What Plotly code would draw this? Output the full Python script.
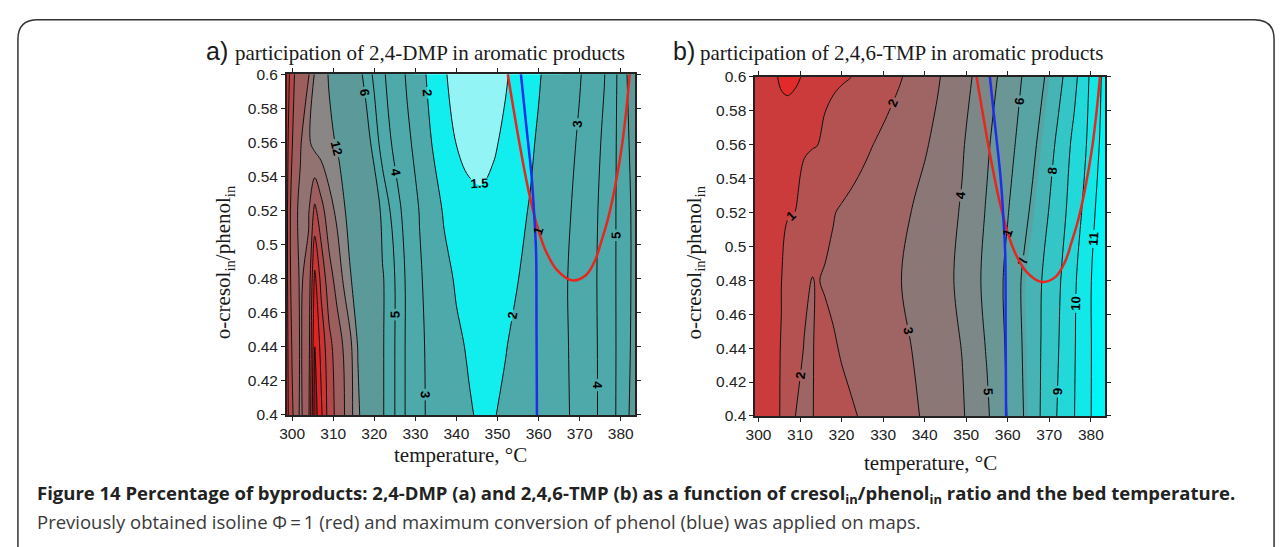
import plotly.graph_objects as go

# ---------------- data ----------------
TEMP = [298.5, 300, 302, 304, 305.5, 307, 309, 311, 313, 314, 316, 318, 320, 322, 324, 326, 328,
        331, 334, 337, 340, 343, 346, 349, 352, 355, 358, 360, 362, 364, 366, 368, 370, 372, 374,
        376, 378, 380, 382, 384]
RATIO = [0.40, 0.44, 0.48, 0.52, 0.56, 0.60]

# panel a: participation of 2,4-DMP (%)
A_040 = [21, 18.3, 15.6, 17.5, 25, 22.5, 19.0, 17.4, 15.8, 14.9, 12.4, 10.6, 8.5, 6.1, 5.43, 4.57, 3.81,
         3.15, 2.83, 2.58, 2.33, 2.08, 1.88, 1.97, 2.1, 2.29, 2.46, 2.57, 2.68, 2.79, 2.9, 3.03, 3.33,
         3.63, 3.93, 4.33, 4.78, 5.33, 5.99, 6.7]
A_044 = [21, 17.8, 15.8, 17, 24, 21.5, 18.6, 17, 15.5, 14.7, 11.9, 10.4, 8.3, 6.1, 5.43, 4.57, 3.81,
         3.15, 2.79, 2.47, 2.15, 1.92, 1.82, 1.86, 1.98, 2.15, 2.37, 2.5, 2.63, 2.76, 2.89, 3.06, 3.35,
         3.65, 3.94, 4.32, 4.78, 5.3, 5.87, 6.6]
A_048 = [21, 17, 15.8, 16.5, 22.5, 19.5, 16.8, 15.2, 13.3, 12.3, 10.8, 9.4, 7.9, 6.1, 5.43, 4.57, 3.8,
         3.1, 2.66, 2.26, 1.9, 1.78, 1.72, 1.75, 1.86, 1.99, 2.24, 2.4, 2.56, 2.72, 2.89, 3.09, 3.38,
         3.67, 3.96, 4.37, 4.79, 5.3, 5.84, 6.5]
A_052 = [21, 16.8, 15.6, 15.8, 18.5, 16.8, 14.8, 13.5, 11.95, 11.1, 9.6, 8.2, 6.9, 5.65, 4.95, 4.15, 3.6,
         2.97, 2.5, 1.9, 1.68, 1.58, 1.56, 1.62, 1.76, 1.9, 2.03, 2.25, 2.44, 2.63, 2.82, 3.01, 3.31,
         3.61, 3.91, 4.31, 4.77, 5.32, 5.85, 6.5]
A_056 = [21, 18.1, 16.2, 14.3, 13.3, 13.0, 12.5, 11.8, 10.6, 10.0, 8.5, 6.6, 5.5, 4.6, 4.03, 3.55, 3.15,
         2.7, 1.99, 1.72, 1.49, 1.42, 1.40, 1.45, 1.58, 1.75, 1.93, 2.06, 2.28, 2.48, 2.67, 2.87, 3.11,
         3.44, 3.77, 4.17, 4.72, 5.33, 5.99, 6.8]
A_060 = [22, 18.4, 17, 16.2, 13.8, 13.2, 11.8, 10.2, 8.7, 8.0, 6.5, 5.55, 4.8, 4.15, 3.7, 3.3, 2.9,
         2.2, 1.82, 1.55, 1.33, 1.22, 1.2, 1.3, 1.46, 1.65, 1.84, 1.95, 2.11, 2.3, 2.52, 2.73, 2.94,
         3.25, 3.6, 3.96, 4.6, 5.35, 6.2, 7]

# panel b: participation of 2,4,6-TMP (%)
B_040 = [0.85, 0.87, 0.90, 0.94, 1.02, 1.5, 2.03, 2.3, 2.1, 1.6, 1.6, 1.7, 1.8, 1.9, 2.01, 2.13, 2.27,
         2.47, 2.67, 2.87, 3.09, 3.37, 3.65, 3.9, 4.38, 4.86, 5.57, 6.05, 6.55, 7.05, 7.55, 8.05, 8.55,
         9.05, 9.51, 9.98, 10.48, 10.98, 11.45, 11.9]
B_044 = [0.86, 0.88, 0.91, 0.95, 1.01, 1.35, 1.7, 2.03, 2.12, 1.7, 1.75, 1.92, 2.06, 2.17, 2.29, 2.40,
         2.51, 2.68, 2.84, 3.01, 3.27, 3.52, 3.77, 4.02, 4.55, 5.07, 5.71, 6.15, 6.65, 7.13, 7.57, 8.01,
         8.47, 8.93, 9.43, 9.93, 10.45, 10.97, 11.45, 11.9]
B_048 = [0.87, 0.89, 0.92, 0.96, 0.99, 1.2, 1.5, 1.85, 2.03, 1.95, 2.08, 2.16, 2.26, 2.37, 2.47, 2.57,
         2.67, 2.82, 2.97, 3.19, 3.42, 3.65, 3.88, 4.23, 4.73, 5.26, 5.81, 6.24, 6.73, 7.18, 7.57, 7.96,
         8.38, 8.81, 9.31, 9.86, 10.4, 10.97, 11.45, 11.9]
B_052 = [0.85, 0.87, 0.9, 0.93, 0.95, 0.975, 1.005, 1.23, 1.44, 1.54, 1.75, 1.96, 2.09, 2.2, 2.3, 2.41,
         2.52, 2.68, 2.85, 3.02, 3.27, 3.53, 3.79, 4.08, 4.58, 5.09, 5.61, 5.96, 6.38, 6.79, 7.17, 7.58,
         8.05, 8.52, 8.99, 9.53, 10.06, 10.69, 11.3, 11.8]
B_056 = [0.82, 0.83, 0.85, 0.86, 0.87, 0.88, 0.91, 0.94, 0.97, 0.98, 1.115, 1.27, 1.42, 1.57, 1.73, 1.88,
         2.03, 2.25, 2.47, 2.69, 2.91, 3.2, 3.55, 3.91, 4.37, 4.88, 5.38, 5.7, 6.04, 6.42, 6.81, 7.23,
         7.68, 8.17, 8.72, 9.24, 9.73, 10.31, 10.99, 11.5]
B_060 = [0.8, 0.8, 0.79, 0.77, 0.72, 0.70, 0.72, 0.77, 0.82, 0.84, 0.87, 0.9, 0.94, 0.985, 1.07, 1.24,
         1.41, 1.67, 1.93, 2.24, 2.57, 2.9, 3.28, 3.67, 4.08, 4.58, 5.08, 5.42, 5.76, 6.11, 6.46, 6.82,
         7.23, 7.68, 8.17, 8.74, 9.42, 10.17, 10.83, 11.5]

# isoline Phi = 1 (red) and maximum conversion of phenol (blue)
PHI_T = [352.5, 355.3, 357.7, 360.0, 361.8, 364.5, 368.2, 371.5, 373.8, 375.3, 377.0, 378.7, 380.3, 381.4, 382.2]
PHI_R = [0.600, 0.560, 0.530, 0.508, 0.496, 0.485, 0.479, 0.482, 0.491, 0.502, 0.516, 0.535, 0.558, 0.580, 0.600]
BLUE_T = [355.7, 357.0, 358.3, 359.0, 359.4, 359.5, 359.6]
BLUE_R = [0.600, 0.570, 0.540, 0.515, 0.495, 0.450, 0.400]

# contour levels and band colours
A_LEVELS = [1.5, 2, 3, 4, 5, 6, 12, 14, 16, 18, 20, 22, 24, 26, 28]
A_COLORS = ['#92f4f4', '#12eeee', '#4eaaaa', '#4eaaaa', '#4eaaaa', '#4fa8a8', '#5c9a9a', '#8a8686',
            '#937272', '#9e5e5e', '#b24848', '#cc3434', '#e02424', '#a01818', '#601010', '#300808']
B_LEVELS = [0.75, 1, 2, 3, 4, 5, 6, 7, 8, 9, 10, 11]
B_COLORS = ['#e22a2a', '#cc3b3b', '#b45252', '#9f6464', '#8c7777', '#7c8787', '#6a9696', '#58a4a4',
            '#46b4b4', '#34c6c6', '#22d8d8', '#12e8e8', '#00f6f6']

Z_A = [A_040, A_044, A_048, A_052, A_056, A_060]
Z_B = [B_040, B_044, B_048, B_052, B_056, B_060]


def stepped(levels, colors, vmin, vmax):
    scale = [[0.0, colors[0]]]
    for lev, c0, c1 in zip(levels, colors[:-1], colors[1:]):
        p = (lev - vmin) / (vmax - vmin)
        scale.append([p, c0])
        scale.append([p, c1])
    scale.append([1.0, colors[-1]])
    return scale


LABEL_FONT = dict(size=13, color='black', family='Liberation Sans', weight='bold')


def fill_trace(z, start, end, size, levels, colors, xa, ya):
    return go.Contour(
        x=TEMP, y=RATIO, z=z, xaxis=xa, yaxis=ya, autocontour=False,
        contours=dict(start=start, end=end, size=size, coloring='fill', showlines=False),
        colorscale=stepped(levels, colors, start - size, end),
        line=dict(width=0), showscale=False, hoverinfo='skip')


def line_trace(z, start, end, size, labels, xa, ya):
    return go.Contour(
        x=TEMP, y=RATIO, z=z, xaxis=xa, yaxis=ya, autocontour=False,
        contours=dict(start=start, end=end, size=size, coloring='none',
                      showlabels=labels, labelfont=LABEL_FONT),
        line=dict(color='#111111', width=1), showscale=False, hoverinfo='skip')


fig = go.Figure()

# ---- panel a
fig.add_trace(fill_trace(Z_A, 1.0, 30.0, 0.5, A_LEVELS, A_COLORS, 'x', 'y'))
fig.add_trace(line_trace(Z_A, 1.5, 1.5, 1, True, 'x', 'y'))
fig.add_trace(line_trace(Z_A, 2, 6, 1, True, 'x', 'y'))
fig.add_trace(line_trace(Z_A, 12, 12, 1, True, 'x', 'y'))
fig.add_trace(line_trace(Z_A, 14, 28, 2, False, 'x', 'y'))
# ---- panel b
fig.add_trace(fill_trace(Z_B, 0.25, 12.5, 0.25, B_LEVELS, B_COLORS, 'x2', 'y2'))
fig.add_trace(line_trace(Z_B, 0.75, 0.75, 1, False, 'x2', 'y2'))
fig.add_trace(line_trace(Z_B, 1, 11, 1, True, 'x2', 'y2'))

for xa, ya in (('x', 'y'), ('x2', 'y2')):
    fig.add_trace(go.Scatter(x=PHI_T, y=PHI_R, mode='lines', xaxis=xa, yaxis=ya,
                             line=dict(color='#e8261e', width=2.5, shape='spline'), hoverinfo='skip'))
    fig.add_trace(go.Scatter(x=BLUE_T, y=BLUE_R, mode='lines', xaxis=xa, yaxis=ya,
                             line=dict(color='#1f2fe8', width=2.5, shape='spline'), hoverinfo='skip'))

W, H = 1282, 547


def px(x):
    return x / W


def py(y):
    return 1 - y / H


axis_common = dict(showgrid=False, zeroline=False, showline=True, mirror='ticks', linecolor='#222222',
                   linewidth=1.5, ticks='outside', ticklen=4, tickwidth=1, tickcolor='#222222',
                   tickfont=dict(family='Liberation Sans', size=15.5, color='#222222'))

fig.update_layout(
    width=W, height=H, margin=dict(l=0, r=0, t=0, b=0),
    paper_bgcolor='white', plot_bgcolor='white', showlegend=False,
    font=dict(family='Liberation Sans'),
    xaxis=dict(domain=[px(279), px(630)], range=[298.7, 383.5], tick0=300, dtick=10, anchor='y', **axis_common),
    yaxis=dict(domain=[py(419), py(67.3)], range=[0.4, 0.6], tick0=0.4, dtick=0.02, anchor='x', **axis_common),
    xaxis2=dict(domain=[px(751), px(1104)], range=[299.2, 383.5], tick0=300, dtick=10, anchor='y2', **axis_common),
    yaxis2=dict(domain=[py(420), py(70)], range=[0.4, 0.6], tick0=0.4, dtick=0.02, anchor='x2', **axis_common),
)

serif = dict(family='Liberation Serif', size=21, color='#1a1a1a')
ann = []
ann.append(dict(text='a)', x=px(209), y=py(43), font=dict(family='Liberation Sans', size=25, color='#1a1a1a')))
ann.append(dict(text='participation of 2,4-DMP in aromatic products', x=px(225), y=py(45), xanchor='left', font=serif))
ann.append(dict(text='b)', x=px(679), y=py(43), font=dict(family='Liberation Sans', size=25, color='#1a1a1a')))
ann.append(dict(text='participation of 2,4,6-TMP in aromatic products', x=px(693), y=py(45), xanchor='left', font=serif))
ann.append(dict(text='temperature, °C', x=px(454.5), y=py(460), font=serif))
ann.append(dict(text='temperature, °C', x=px(927.5), y=py(469), font=serif))
ann.append(dict(text='o-cresol<sub>in</sub>/phenol<sub>in</sub>', x=px(216), y=py(261), textangle=-90, font=serif))
ann.append(dict(text='o-cresol<sub>in</sub>/phenol<sub>in</sub>', x=px(690), y=py(262), textangle=-90, font=serif))
ann.append(dict(text='<b>Figure 14 Percentage of byproducts: 2,4-DMP (a) and 2,4,6-TMP (b) as a function of '
                     'cresol<sub>in</sub>/phenol<sub>in</sub> ratio and the bed temperature.</b>',
                x=px(25), y=py(501), xanchor='left', font=dict(family='Open Sans', size=18.5, color='#222222')))
ann.append(dict(text='Previously obtained isoline \u03a6\u2009=\u20091 (red) and maximum conversion of phenol (blue) was applied on maps.',
                x=px(25), y=py(529), xanchor='left', font=dict(family='Open Sans', size=18.5, color='#3a3a3a')))
for a in ann:
    a.setdefault('xref', 'paper')
    a.setdefault('yref', 'paper')
    a.setdefault('showarrow', False)
    a.setdefault('xanchor', 'center')
    a.setdefault('yanchor', 'middle')
# isoline labels "1" on the red curve
for xa, ya in (('x', 'y'), ('x2', 'y2')):
    ann.append(dict(text='<b>1</b>', x=PHI_T[3], y=PHI_R[3], xref=xa, yref=ya, showarrow=False,
                    textangle=-70, font=dict(family='Liberation Sans', size=13, color='black')))
fig.update_layout(annotations=ann)

# outer figure frame with rounded top corners
x0, x1, yt, r = 8, 1274, 11, 20
frame = (f"M {px(x0)},-0.05 L {px(x0)},{py(yt + r)} Q {px(x0)},{py(yt)} {px(x0 + r)},{py(yt)} "
         f"L {px(x1 - r)},{py(yt)} Q {px(x1)},{py(yt)} {px(x1)},{py(yt + r)} L {px(x1)},-0.05")
fig.add_shape(type='path', path=frame, xref='paper', yref='paper', line=dict(color='#333333', width=1.5))

fig.write_html('out.html')
